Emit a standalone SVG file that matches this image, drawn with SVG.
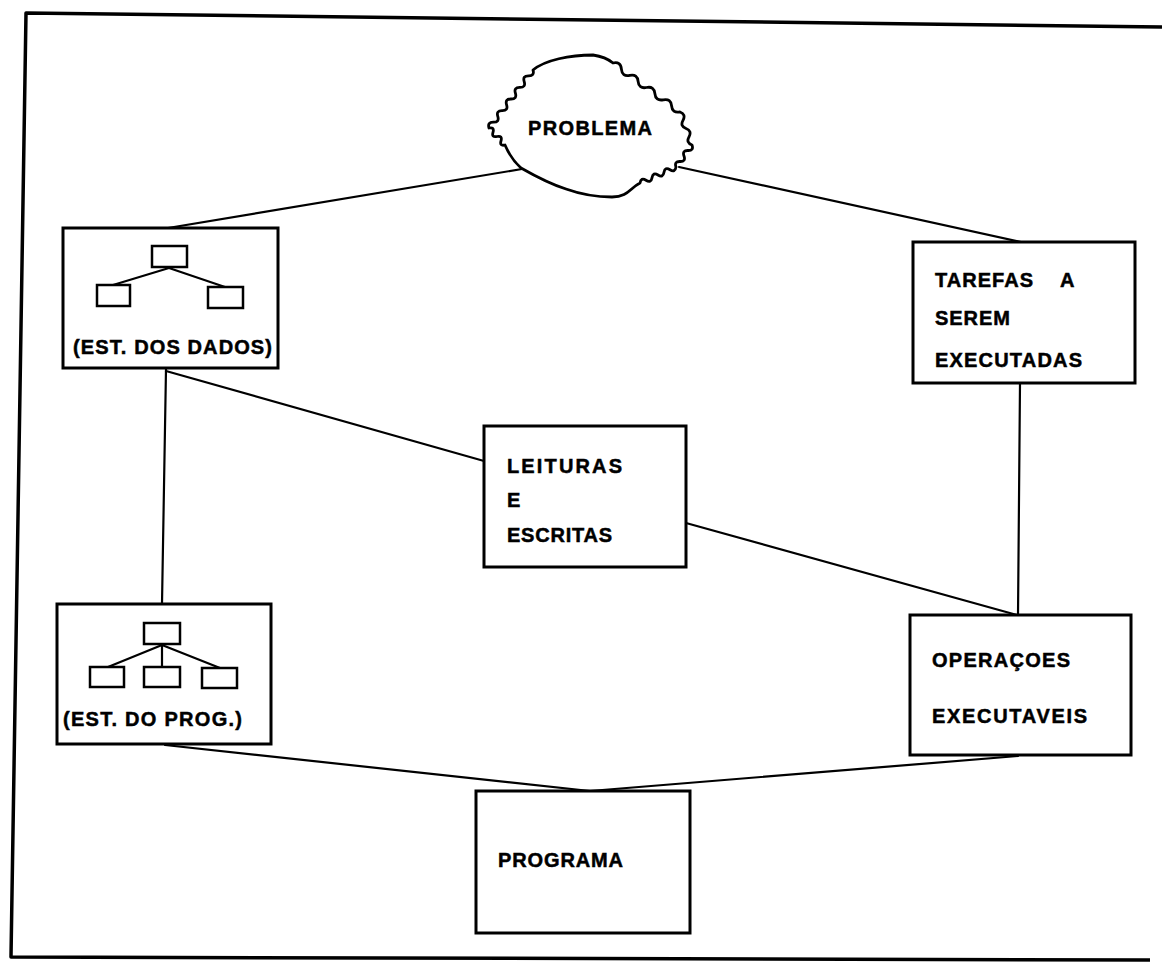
<svg xmlns="http://www.w3.org/2000/svg" width="1162" height="969" viewBox="0 0 1162 969">
  <style>
    .frame { fill: none; stroke: #000; stroke-width: 3.5; stroke-linejoin: round; }
    .box { fill: #fff; stroke: #000; stroke-width: 3; }
    .mini { fill: #fff; stroke: #000; stroke-width: 2.5; }
    .link { fill: none; stroke: #000; stroke-width: 2.2; stroke-linecap: round; }
    .cloud { fill: #fff; stroke: #000; stroke-width: 2.8; stroke-linejoin: round; }
    .label { font-family: "Liberation Sans", Arial, sans-serif; font-weight: bold; font-size: 20px; fill: #000; stroke: #000; stroke-width: 0.5; }
  </style>

  <rect width="1162" height="969" fill="#fff"/>

  <!-- outer frame -->
  <path class="frame" d="M1162 27 L26 13 L11 957 L1150 960"/>

  <!-- connectors -->
  <g id="connectors">
    <line class="link" x1="522" y1="169" x2="168" y2="228"/>
    <line class="link" x1="679" y1="167" x2="1021" y2="242"/>
    <line class="link" x1="166" y1="369" x2="162" y2="604"/>
    <line class="link" x1="166" y1="371" x2="484" y2="461"/>
    <line class="link" x1="686" y1="523" x2="1017" y2="615"/>
    <line class="link" x1="1020" y1="383" x2="1018" y2="615"/>
    <line class="link" x1="165" y1="745" x2="590" y2="791"/>
    <line class="link" x1="1018" y1="756" x2="590" y2="791"/>
  </g>

  <!-- problem cloud: smooth crown and base, squiggly flanks -->
  <g id="problema">
    <path class="cloud" d="M613 63
      Q620.7 61.2 621.4 69.1 T629.8 75.4 T638.1 81.4 T646.5 87.5 T654.9 93.6 T663.3 99.8 T671.6 105.9 T680 112
      Q686.2 114.4 683 120.3 T686 128.5 T689 136.8 T692 145
      Q694 150.7 688 150.5 T684 156 T680 161.5 T676 167
      Q675 172.9 670 169.7 T664 172.3 T658 175 T652 177.7 T646 180.3 T640 183
      C630 188 628 197 612 197
      C595 197 580 194 566 189
      C550 184 535 176 521 168
      C512 160 508 152 505 145
      Q499.4 146.3 501 140.8 T497 136.5 T493 132.3 T489 128
      Q487.2 122.1 493.4 122.2 T497.8 116.4 T502.2 110.6 T506.6 104.8 T511 99 T515.4 93.2 T519.8 87.4 T524.2 81.6 T528.6 75.8 T533 70
      C545 60 570 55 593 55
      C600 56 607 58 613 63 Z"/>
    <text class="label" x="528" y="135" textLength="124" lengthAdjust="spacing">PROBLEMA</text>
  </g>

  <!-- data structure -->
  <g id="est-dados">
    <rect class="box" x="63" y="228" width="215" height="140"/>
    <line class="link" x1="169" y1="268" x2="113" y2="285"/>
    <line class="link" x1="169" y1="268" x2="225" y2="287"/>
    <rect class="mini" x="152" y="246" width="35" height="21"/>
    <rect class="mini" x="97" y="285" width="33" height="21"/>
    <rect class="mini" x="208" y="287" width="35" height="21"/>
    <text class="label" x="73" y="354" textLength="199" lengthAdjust="spacing">(EST. DOS DADOS)</text>
  </g>

  <!-- tasks -->
  <g id="tarefas">
    <rect class="box" x="913" y="242" width="222" height="141"/>
    <text class="label" x="935" y="287" textLength="98" lengthAdjust="spacing">TAREFAS</text>
    <text class="label" x="1060" y="287">A</text>
    <text class="label" x="935" y="325" textLength="75" lengthAdjust="spacing">SEREM</text>
    <text class="label" x="935" y="367" textLength="147" lengthAdjust="spacing">EXECUTADAS</text>
  </g>

  <!-- reads and writes -->
  <g id="leituras">
    <rect class="box" x="484" y="426" width="202" height="141"/>
    <text class="label" x="507" y="473" textLength="115" lengthAdjust="spacing">LEITURAS</text>
    <text class="label" x="507" y="507">E</text>
    <text class="label" x="507" y="542" textLength="105" lengthAdjust="spacing">ESCRITAS</text>
  </g>

  <!-- program structure -->
  <g id="est-prog">
    <rect class="box" x="57" y="604" width="214" height="140"/>
    <line class="link" x1="162" y1="645" x2="108" y2="667"/>
    <line class="link" x1="162" y1="645" x2="162" y2="667"/>
    <line class="link" x1="162" y1="645" x2="220" y2="668"/>
    <rect class="mini" x="144" y="623" width="36" height="21"/>
    <rect class="mini" x="90" y="667" width="34" height="20"/>
    <rect class="mini" x="144" y="667" width="36" height="20"/>
    <rect class="mini" x="202" y="668" width="35" height="20"/>
    <text class="label" x="63" y="726" textLength="179" lengthAdjust="spacing">(EST. DO PROG.)</text>
  </g>

  <!-- executable operations -->
  <g id="operacoes">
    <rect class="box" x="910" y="615" width="221" height="140"/>
    <text class="label" x="932" y="667" textLength="138" lengthAdjust="spacing">OPERAÇOES</text>
    <text class="label" x="932" y="723" textLength="155" lengthAdjust="spacing">EXECUTAVEIS</text>
  </g>

  <!-- program -->
  <g id="programa">
    <rect class="box" x="476" y="791" width="214" height="142"/>
    <text class="label" x="498" y="867" textLength="125" lengthAdjust="spacing">PROGRAMA</text>
  </g>
</svg>
